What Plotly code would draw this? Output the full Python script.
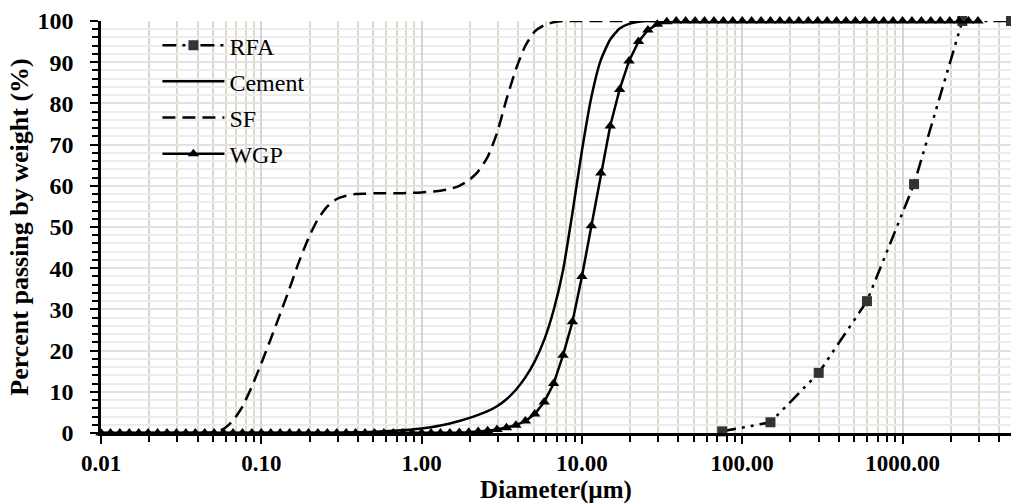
import plotly.graph_objects as go

# Particle size classes (µm), laser diffraction grid
diameter = [
    0.01000, 0.01145, 0.01311, 0.01501, 0.01719, 0.01968, 0.02254, 0.02581, 0.02955, 0.03384,
    0.03875, 0.04437, 0.05080, 0.05817, 0.06661, 0.07627, 0.08733,
    0.1000, 0.1145, 0.1311, 0.1501, 0.1719, 0.1968, 0.2254, 0.2581, 0.2955, 0.3384,
    0.3875, 0.4437, 0.5080, 0.5817, 0.6661, 0.7627, 0.8733,
    1.000, 1.145, 1.311, 1.501, 1.719, 1.968, 2.254, 2.581, 2.955, 3.384,
    3.875, 4.437, 5.080, 5.817, 6.661, 7.627, 8.733,
    10.00, 11.45, 13.11, 15.01, 17.19, 19.68, 22.54, 25.81, 29.55, 33.84,
    38.75, 44.37, 50.80, 58.17, 66.61, 76.27, 87.33,
    100.0, 114.5, 131.1, 150.1, 171.9, 196.8, 225.4, 258.1, 295.5, 338.4,
    387.5, 443.7, 508.0, 581.7, 666.1, 762.7, 873.3,
    1000, 1145, 1311, 1501, 1719, 1968, 2254, 2581, 2955,
]

sf = [
    0, 0, 0, 0, 0, 0, 0, 0, 0, 0,
    0, 0, 0.2, 1.0, 3.0, 6.4, 11.3,
    16.9, 22.8, 28.9, 35.1, 41.6, 47.3, 51.9, 55.0, 56.8, 57.6,
    58.0, 58.1, 58.2, 58.2, 58.2, 58.2, 58.3,
    58.4, 58.6, 58.8, 59.2, 60.0, 61.3, 63.5, 67.0, 72.8, 81.0,
    88.3, 94.0, 97.5, 99.0, 99.7, 100, 100,
    100, 100, 100, 100, 100, 100, 100, 100, 100, 100,
    100, 100, 100, 100, 100, 100, 100,
    100, 100, 100, 100, 100, 100, 100, 100, 100, 100,
    100, 100, 100, 100, 100, 100, 100,
    100, 100, 100, 100, 100, 100, 100, 100, 100,
]

cement = [
    0, 0, 0, 0, 0, 0, 0, 0, 0, 0,
    0, 0, 0, 0, 0, 0, 0,
    0, 0, 0, 0, 0, 0, 0, 0, 0, 0.1,
    0.15, 0.2, 0.3, 0.4, 0.55, 0.7, 0.85,
    1.1, 1.4, 1.8, 2.3, 2.9, 3.6, 4.4, 5.3, 6.5, 8.2,
    10.5, 13.5, 17.4, 22.6, 29.8, 39.5, 53.5,
    68.5, 81.5, 90.5, 95.5, 98.2, 99.3, 99.8, 100, 100, 100,
    100, 100, 100, 100, 100, 100, 100,
    100, 100, 100, 100, 100, 100, 100, 100, 100, 100,
    100, 100, 100, 100, 100, 100, 100,
    100, 100, 100, 100, 100, 100, 100, 100, 100,
]

wgp = [
    0, 0, 0, 0, 0, 0, 0, 0, 0, 0,
    0, 0, 0, 0, 0, 0, 0,
    0, 0, 0, 0, 0, 0, 0, 0, 0, 0,
    0, 0, 0, 0, 0, 0, 0,
    0, 0, 0, 0, 0.1, 0.2, 0.35, 0.55, 0.85, 1.3,
    1.9, 2.9, 4.6, 7.5, 12.0, 18.9, 27.0,
    38.0, 50.3, 63.1, 74.5, 83.4, 90.3, 95.0, 97.8, 99.2, 99.8,
    100, 100, 100, 100, 100, 100, 100,
    100, 100, 100, 100, 100, 100, 100, 100, 100, 100,
    100, 100, 100, 100, 100, 100, 100,
    100, 100, 100, 100, 100, 100, 100, 100, 100,
]

# Recycled fine aggregate sieve analysis
rfa_sieve = [75, 150, 300, 600, 1180, 2360, 4750]
rfa_pass = [0.4, 2.6, 14.6, 32.0, 60.4, 100, 100]

x_tickvals = [0.01, 0.1, 1, 10, 100, 1000]
x_ticktext = ["0.01", "0.10", "1.00", "10.00", "100.00", "1000.00"]
y_tickvals = [0, 10, 20, 30, 40, 50, 60, 70, 80, 90, 100]

SERIF = "Liberation Serif, Times New Roman, serif"

fig = go.Figure()

fig.add_trace(go.Scatter(
    x=rfa_sieve, y=rfa_pass, name="RFA", mode="lines+markers",
    line=dict(color="black", width=2.5, dash="14px,6px,3px,6px,3px,6px"),
    marker=dict(symbol="square", size=10, color="#333333"),
    cliponaxis=False, legendgroup="a",
))
fig.add_trace(go.Scatter(
    x=diameter, y=cement, name="Cement", mode="lines",
    line=dict(color="black", width=2.5, shape="spline", smoothing=0.5),
    legendgroup="b",
))
fig.add_trace(go.Scatter(
    x=diameter, y=sf, name="SF", mode="lines",
    line=dict(color="black", width=2.5, dash="13px,7px", shape="spline", smoothing=0.5),
    legendgroup="c", cliponaxis=False,
))
fig.add_trace(go.Scatter(
    x=diameter, y=wgp, name="WGP", mode="lines+markers",
    line=dict(color="black", width=2.5),
    marker=dict(symbol="triangle-up", size=10, color="black"),
    cliponaxis=False, legendgroup="d",
))

minor_x = [m * 10 ** e for e in range(-2, 4) for m in range(2, 10)]

fig.update_layout(
    width=1011, height=504,
    margin=dict(l=101, r=0, t=21, b=71),
    paper_bgcolor="white", plot_bgcolor="white",
    showlegend=True,
    legend=dict(
        x=0.062, y=0.995, xanchor="left", yanchor="top",
        bgcolor="rgba(0,0,0,0)", borderwidth=0,
        font=dict(family=SERIF, size=24, color="black"),
        tracegroupgap=2, itemwidth=62,
    ),
    xaxis=dict(
        type="log", range=[-2, 3.6767], automargin=False,
        tickmode="array", tickvals=x_tickvals, ticktext=x_ticktext,
        tickfont=dict(family=SERIF, size=23, color="black", weight="bold"),
        ticks="outside", ticklen=8, tickwidth=2, tickcolor="black",
        ticklabelstandoff=0,
        showline=True, linecolor="black", linewidth=2.5,
        showgrid=True, gridcolor="#d5d5df", gridwidth=1.5,
        zeroline=False,
        minor=dict(tickmode="array", tickvals=minor_x, ticks="outside", ticklen=6,
                   tickwidth=1.5, tickcolor="black", showgrid=True,
                   gridcolor="#dedac8", gridwidth=1.5),
        title=dict(text="Diameter(µm)", standoff=8,
                   font=dict(family=SERIF, size=25, color="black", weight="bold")),
    ),
    xaxis2=dict(
        type="log", range=[-2, 3.6767], overlaying="x", anchor="y", side="bottom",
        tickmode="array", tickvals=x_tickvals, showticklabels=False,
        ticks="inside", ticklen=8, tickwidth=2, tickcolor="black",
        showgrid=False, showline=False, zeroline=False, automargin=False,
    ),
    yaxis=dict(
        range=[0, 100], tickmode="array", tickvals=y_tickvals, automargin=False,
        tickfont=dict(family=SERIF, size=24, color="black", weight="bold"),
        ticks="outside", ticklen=8, tickwidth=2, tickcolor="black",
        ticklabelstandoff=12,
        showline=True, linecolor="black", linewidth=2.5,
        showgrid=True, gridcolor="#e2e2e2", gridwidth=1.5,
        zeroline=False,
        minor=dict(dtick=2, ticks="outside", ticklen=6, tickwidth=1.5,
                   tickcolor="black", showgrid=True, gridcolor="#ececec", gridwidth=1.5),
        title=dict(text="Percent passing by weight (%)", standoff=2,
                   font=dict(family=SERIF, size=26, color="black", weight="bold")),
    ),
    yaxis2=dict(
        range=[0, 100], overlaying="y", anchor="x", side="left",
        tickmode="array", tickvals=y_tickvals, showticklabels=False,
        ticks="inside", ticklen=8, tickwidth=2, tickcolor="black",
        showgrid=False, showline=False, zeroline=False, automargin=False,
    ),
)

fig.write_html(
    "out.html",
    config={"displayModeBar": False},
    post_script="document.body.style.margin='0';document.body.style.overflow='hidden';",
)
